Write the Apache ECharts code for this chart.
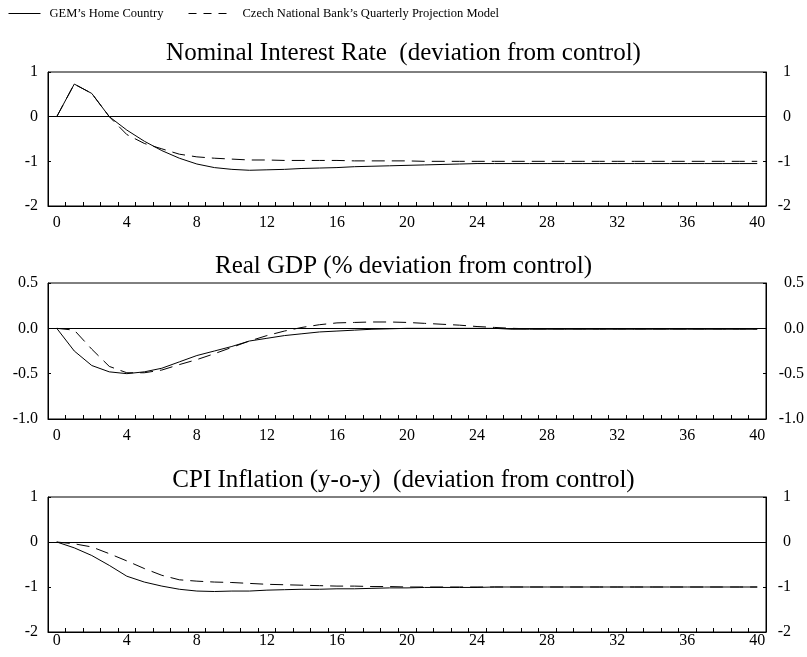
<!DOCTYPE html>
<html>
<head>
<meta charset="utf-8">
<script src="https://cdn.jsdelivr.net/npm/echarts@6/dist/echarts.min.js"></script>
<style>html,body{margin:0;padding:0;background:#fff;}#c{width:807px;height:657px;}</style>
</head>
<body>
<div id="c"></div>
<script>
const quarters = Array.from({length: 41}, (_, i) => String(i));
const seriesNames = ["GEM\u2019s Home Country", "Czech National Bank\u2019s Quarterly Projection Model"];
const panelTitles = [
  "Nominal Interest Rate  (deviation from control)",
  "Real GDP (% deviation from control)",
  "CPI Inflation (y-o-y)  (deviation from control)"
];
const yTicks1 = [-2, -1, 0, 1];
const yTicks2 = [-1.0, -0.5, 0.0, 0.5];
const yTicks3 = [-2, -1, 0, 1];

const rateGEM = [0, 0.73, 0.52, 0, -0.3, -0.55, -0.76, -0.93, -1.06, -1.14, -1.18, -1.2, -1.19, -1.18, -1.16, -1.15, -1.14, -1.12, -1.11, -1.1, -1.09, -1.08, -1.07, -1.06, -1.05, -1.05, -1.05, -1.05, -1.05, -1.05, -1.05, -1.05, -1.05, -1.05, -1.05, -1.05, -1.05, -1.05, -1.05, -1.05, -1.05];
const rateQPM = [0, 0.73, 0.52, 0, -0.4, -0.6, -0.72, -0.84, -0.9, -0.93, -0.95, -0.97, -0.97, -0.98, -0.98, -0.98, -0.98, -0.99, -0.99, -0.99, -0.99, -1.0, -1.0, -1.0, -1.0, -1.0, -1.0, -1.0, -1.0, -1.0, -1.0, -1.0, -1.0, -1.0, -1.0, -1.0, -1.0, -1.0, -1.0, -1.0, -1.0];

const gdpGEM = [0, -0.25, -0.41, -0.48, -0.5, -0.48, -0.44, -0.37, -0.3, -0.25, -0.2, -0.14, -0.11, -0.08, -0.06, -0.04, -0.03, -0.02, -0.01, -0.005, 0, 0, 0, 0, 0, 0, -0.01, -0.01, -0.01, -0.01, -0.01, -0.01, -0.01, -0.01, -0.01, -0.01, -0.01, -0.01, -0.01, -0.01, -0.01];
const gdpQPM = [0, -0.02, -0.23, -0.42, -0.49, -0.49, -0.46, -0.4, -0.345, -0.28, -0.21, -0.14, -0.08, -0.03, 0.01, 0.04, 0.06, 0.065, 0.07, 0.07, 0.065, 0.055, 0.045, 0.035, 0.02, 0.01, 0, -0.005, -0.005, -0.005, -0.005, -0.005, -0.005, -0.005, -0.005, -0.005, -0.005, -0.005, -0.005, -0.005, -0.005];

const cpiGEM = [0, -0.13, -0.3, -0.52, -0.76, -0.89, -0.98, -1.05, -1.09, -1.1, -1.09, -1.09, -1.07, -1.06, -1.05, -1.05, -1.04, -1.04, -1.03, -1.02, -1.02, -1.01, -1.01, -1.01, -1.01, -1.0, -1.0, -1.0, -1.0, -1.0, -1.0, -1.0, -1.0, -1.0, -1.0, -1.0, -1.0, -1.0, -1.0, -1.0, -1.0];
const cpiQPM = [0, -0.04, -0.11, -0.26, -0.42, -0.59, -0.74, -0.84, -0.87, -0.89, -0.9, -0.92, -0.94, -0.95, -0.96, -0.97, -0.98, -0.98, -0.99, -0.99, -1.0, -1.0, -1.0, -1.0, -1.0, -1.0, -1.0, -1.0, -1.0, -1.0, -1.0, -1.0, -1.0, -1.0, -1.0, -1.0, -1.0, -1.0, -1.0, -1.0, -1.0];

const FONT = "Liberation Serif";
const grids = [
  {left: 48, right: 41, top: 72, height: 134},
  {left: 48, right: 41, top: 283, height: 136},
  {left: 48, right: 41, top: 497, height: 135}
];
const titleTops = [36, 249, 463];
const xMargins = [9, 9, 1];
const yRanges = [
  {ticks: yTicks1, interval: 1, dec: 0, rmargin: 25},
  {ticks: yTicks2, interval: 0.5, dec: 1, rmargin: 38},
  {ticks: yTicks3, interval: 1, dec: 0, rmargin: 25}
];
const panelData = [[rateGEM, rateQPM], [gdpGEM, gdpQPM], [cpiGEM, cpiQPM]];

const option = {
  animation: false,
  backgroundColor: '#fff',
  textStyle: {fontFamily: FONT, color: '#000'},
  title: panelTitles.map((t, i) => ({
    text: t, left: 'center', top: titleTops[i],
    textStyle: {fontFamily: FONT, fontSize: 25, fontWeight: 'normal', color: '#000'}
  })),
  legend: [
    {data: [seriesNames[0]], left: 3, top: 2, itemWidth: 32, itemHeight: 14,
     textStyle: {fontFamily: FONT, fontSize: 12.5, color: '#000', padding: [0, 0, 0, 4]},
     itemStyle: {opacity: 0},
     lineStyle: {type: 'solid', width: 1, color: '#000'}},
    {data: [seriesNames[1]], left: 183, top: 2, itemWidth: 45, itemHeight: 14,
     textStyle: {fontFamily: FONT, fontSize: 12.5, color: '#000', padding: [0, 0, 0, 4]},
     itemStyle: {opacity: 0},
     lineStyle: {type: [8, 7], width: 1, color: '#000'}}
  ],
  grid: grids.map(g => Object.assign({show: true, borderColor: '#000', borderWidth: 1, backgroundColor: 'transparent'}, g)),
  xAxis: grids.map((g, i) => ({
    type: 'category', gridIndex: i, data: quarters, boundaryGap: true,
    axisLine: {show: true, onZero: false, lineStyle: {color: '#000', width: 1}},
    axisTick: {show: true, inside: true, length: 4, interval: 0, lineStyle: {color: '#000'}},
    axisLabel: {interval: 3, margin: xMargins[i], fontFamily: FONT, fontSize: 16, color: '#000'},
    splitLine: {show: false}
  })),
  yAxis: [].concat(...grids.map((g, i) => {
    const r = yRanges[i];
    const mn = Math.min(...r.ticks), mx = Math.max(...r.ticks);
    const base = {
      type: 'value', gridIndex: i, min: mn, max: mx, interval: r.interval,
      splitLine: {show: false},
      axisLine: {show: true, onZero: false, lineStyle: {color: '#000', width: 1}},
      axisTick: {show: true, inside: true, length: 3, lineStyle: {color: '#000'}}
    };
    return [
      Object.assign({}, base, {position: 'left',
        axisLabel: {margin: 10, fontFamily: FONT, fontSize: 16, color: '#000',
          formatter: v => v.toFixed(r.dec)}}),
      Object.assign({}, base, {position: 'right',
        axisLabel: {margin: r.rmargin, align: 'right', fontFamily: FONT, fontSize: 16, color: '#000',
          formatter: v => v.toFixed(r.dec)}})
    ];
  })),
  series: [].concat(...panelData.map((pd, i) => [
    {name: seriesNames[0], type: 'line', xAxisIndex: i, yAxisIndex: i * 2, data: pd[0],
     symbol: 'none', lineStyle: {color: '#000', width: 1, type: 'solid'}, itemStyle: {color: '#000'},
     markLine: {silent: true, symbol: 'none', label: {show: false},
       lineStyle: {color: '#000', width: 1, type: 'solid'}, data: [{yAxis: 0}]}},
    {name: seriesNames[1], type: 'line', xAxisIndex: i, yAxisIndex: i * 2, data: pd[1],
     symbol: 'none', lineStyle: {color: '#000', width: 1, type: [13, 7]}, itemStyle: {color: '#000'}}
  ]))
};

const chart = echarts.init(document.getElementById('c'), null, {renderer: 'canvas'});
chart.setOption(option);
</script>
</body>
</html>
